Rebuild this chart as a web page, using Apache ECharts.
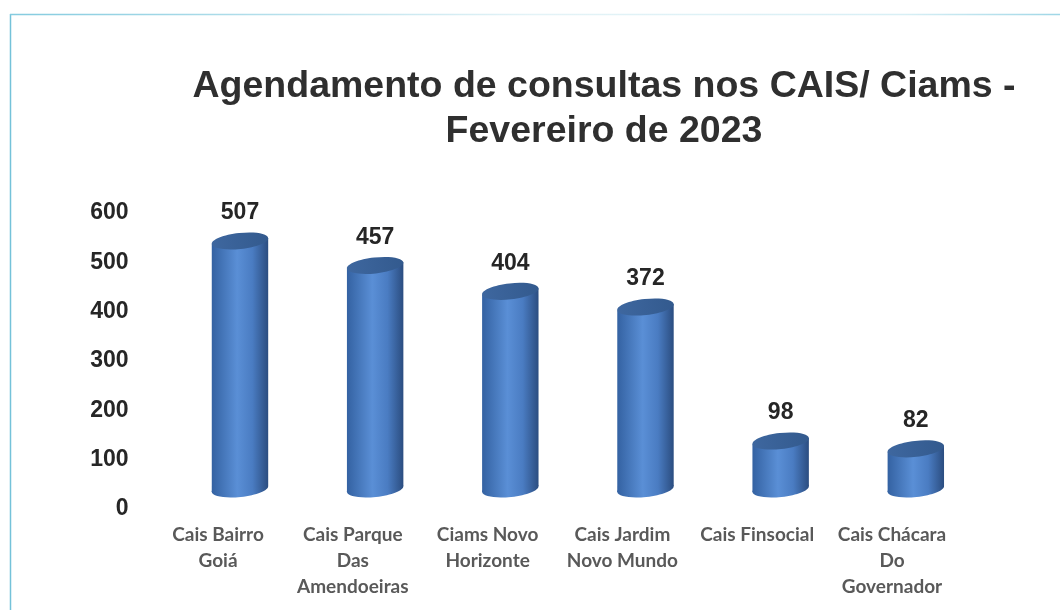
<!DOCTYPE html>
<html><head><meta charset="utf-8">
<script src="https://cdn.jsdelivr.net/npm/echarts@6/dist/echarts.min.js"></script>
<style>html,body{margin:0;padding:0;background:#fff}#c{width:1060px;height:610px}</style>
</head><body><div id="c"></div>
<script>
const categories = ['Cais Bairro\nGoiá', 'Cais Parque\nDas\nAmendoeiras', 'Ciams Novo\nHorizonte', 'Cais Jardim\nNovo Mundo', 'Cais Finsocial', 'Cais Chácara\nDo\nGovernador'];
const values = [507, 457, 404, 372, 98, 82];
const yMin = 0, yMax = 600, yStep = 100;
const titleText = 'Agendamento de consultas nos CAIS/ Ciams -\nFevereiro de 2023';

const chart = echarts.init(document.getElementById('c'), null, {renderer: 'canvas'});

function bodyGrad() {
  return new echarts.graphic.LinearGradient(0, 0, 1, 0, [
    {offset: 0, color: '#3462a2'},
    {offset: 0.45, color: '#5a8fd6'},
    {offset: 0.72, color: '#4a7cc2'},
    {offset: 1, color: '#2b4d80'}
  ]);
}
function topGrad() {
  return new echarts.graphic.LinearGradient(0, 0, 1, 0, [
    {offset: 0, color: '#3e679f'},
    {offset: 1, color: '#335a8e'}
  ]);
}

function renderItem(params, api) {
  const cat = api.value(0), v = api.value(1);
  const top = api.coord([cat, v]);
  const base = api.coord([cat, 0]);
  const bw = api.size([1, 0])[0] * 0.42;
  const rx = bw / 2, ry = 8;
  const cx = top[0];
  const rot = 0.11;
  const dx = rx * Math.cos(rot), dy = rx * Math.sin(rot);
  const body = [
    [cx - dx, top[1] + dy], [cx + dx, top[1] - dy],
    [cx + dx, base[1] - dy], [cx - dx, base[1] + dy]
  ];
  return {
    type: 'group',
    children: [
      {type: 'ellipse', shape: {cx: cx, cy: base[1], rx: rx, ry: ry}, rotation: rot, originX: cx, originY: base[1], style: {fill: bodyGrad()}},
      {type: 'polygon', shape: {points: body}, style: {fill: bodyGrad()}},
      {type: 'ellipse', shape: {cx: cx, cy: top[1], rx: rx, ry: ry}, rotation: rot, originX: cx, originY: top[1], style: {fill: topGrad()}},
      {type: 'text', x: cx, y: top[1] - 28, style: {text: String(v), align: 'center', verticalAlign: 'middle', font: 'bold 23px "Liberation Sans", Arial, sans-serif', fill: '#262626'}}
    ]
  };
}

const option = {
  backgroundColor: '#ffffff',
  animation: false,
  grid: [
    {left: 150.6, right: 100.6, top: 213, bottom: 101},
    {left: 172.4, right: 76.6, top: 195.5, bottom: 121}
  ],
  xAxis: [
    {type: 'category', gridIndex: 0, data: categories, axisLine: {show: false}, axisTick: {show: false},
     axisLabel: {interval: 0, margin: 13, color: '#595959', fontFamily: 'Lato', fontWeight: 'bold', fontSize: 19, lineHeight: 26}},
    {type: 'category', gridIndex: 1, data: categories, show: false}
  ],
  yAxis: [
    {type: 'value', gridIndex: 0, min: yMin, max: yMax, interval: yStep, axisLine: {show: false}, axisTick: {show: false}, splitLine: {show: false},
     axisLabel: {margin: 22, color: '#262626', fontFamily: 'Liberation Sans', fontWeight: 'bold', fontSize: 23}},
    {type: 'value', gridIndex: 1, min: yMin, max: yMax, show: false, splitLine: {show: false}}
  ],
  series: [{
    type: 'custom',
    xAxisIndex: 1, yAxisIndex: 1,
    renderItem: renderItem,
    data: values.map((v, i) => [i, v])
  }],
  graphic: [
    {type: 'line', shape: {x1: 10.5, y1: 14, x2: 10.5, y2: 610}, style: {stroke: '#74c2d9', lineWidth: 1.5}},
    {type: 'line', shape: {x1: 10, y1: 14.5, x2: 1060, y2: 14.5}, style: {lineWidth: 1.5,
      stroke: new echarts.graphic.LinearGradient(0, 0, 1, 0, [
        {offset: 0, color: '#84cbdf'}, {offset: 0.5, color: '#e4f3f7'}, {offset: 0.85, color: '#d8eff5'}, {offset: 1, color: '#9ed6e6'}
      ])}},
    {type: 'text', x: 604, y: 64, style: {text: titleText, align: 'center', verticalAlign: 'top', font: 'bold 37.5px "Liberation Sans", Arial, sans-serif', lineHeight: 45, fill: '#2f2f2f'}}
  ]
};
chart.setOption(option);
</script>
</body></html>
